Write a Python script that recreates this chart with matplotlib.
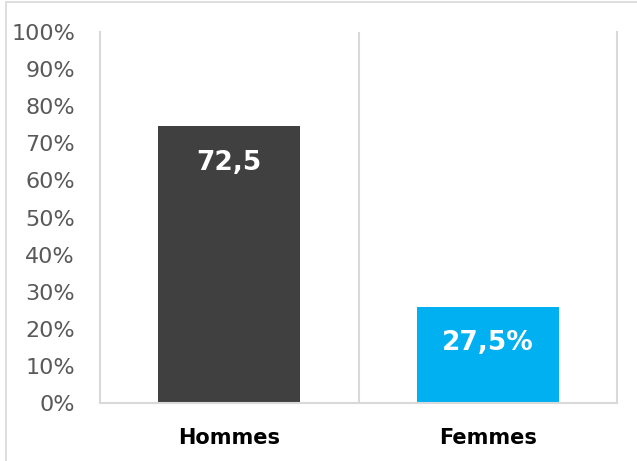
import matplotlib
matplotlib.use('Agg')
import matplotlib.pyplot as plt
from matplotlib.patches import Rectangle

categories = ['Hommes', 'Femmes']
values = [74.6, 25.9]
labels = ['72,5', '27,5%']
colors = ['#404040', '#00B0F0']
yticks = [0, 10, 20, 30, 40, 50, 60, 70, 80, 90, 100]
ytick_labels = [f'{t}%' for t in yticks]

fig = plt.figure(figsize=(6.37, 4.61), dpi=100)
ax = fig.add_axes([100/637, 1-403/461, 517/637, 371/461])

x = range(len(categories))
bars = ax.bar(x, values, width=0.55, color=colors, zorder=2)

for b, lab in zip(bars, labels):
    ax.text(b.get_x() + b.get_width()/2, b.get_height() - 9.8, lab,
            ha='center', va='center', color='white', fontsize=19,
            fontweight='bold', zorder=3)

ax.set_xlim(-0.5, 1.5)
ax.set_ylim(0, 100)
ax.set_yticks(yticks)
ax.set_yticklabels(ytick_labels, fontsize=16, color='#595959')
ax.set_xticks(list(x))
ax.set_xticklabels(categories, fontsize=15, fontweight='bold', color='black')
ax.tick_params(axis='both', length=0)
ax.tick_params(axis='y', pad=18)
ax.tick_params(axis='x', pad=18)

ax.axvline(0.5, color='#D9D9D9', lw=1.5, zorder=1)
for s in ['left', 'right', 'bottom']:
    ax.spines[s].set_color('#D9D9D9')
    ax.spines[s].set_linewidth(1.5)
ax.spines['top'].set_visible(False)

fig.patches.append(Rectangle((6/637, -0.01), 1.0, 1 - 2/461 + 0.01,
                             transform=fig.transFigure, fill=False,
                             edgecolor='#D9D9D9', lw=1.2))

fig.savefig('out.png', dpi=100)
